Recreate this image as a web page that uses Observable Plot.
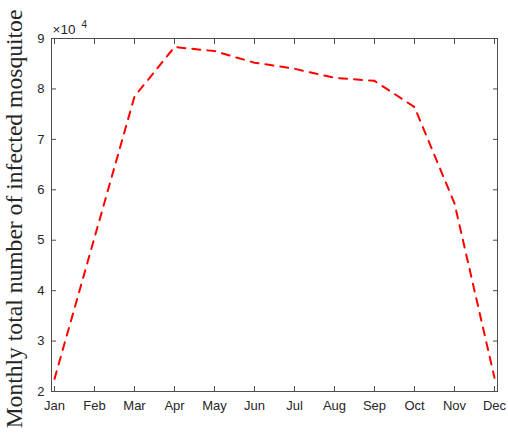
<!DOCTYPE html>
<html>
<head>
<meta charset="utf-8">
<script src="https://cdn.jsdelivr.net/npm/d3@7"></script>
<script src="https://cdn.jsdelivr.net/npm/@observablehq/plot@0.6"></script>
<style>
  html, body { margin: 0; padding: 0; background: #fff; }
  #chart svg { display: block; }
</style>
</head>
<body>
<div id="chart"></div>
<script>
// Monthly total number of infected mosquitoes (in units of 10^4)
const months = ["Jan", "Feb", "Mar", "Apr", "May", "Jun", "Jul", "Aug", "Sep", "Oct", "Nov", "Dec"];
const infected = [2.25, 5.05, 7.85, 8.83, 8.75, 8.52, 8.40, 8.22, 8.16, 7.64, 5.73, 2.27];
const yTicks = [2, 3, 4, 5, 6, 7, 8, 9];
const yLabel = "Monthly total number of infected mosquitoe";

const data = months.map((m, i) => ({month: m, value: infected[i]}));

const axisColor = "#262626";
const frameColor = "#4d4d4d";

const chart = Plot.plot({
  width: 508,
  height: 435,
  marginLeft: 51,
  marginRight: 11,
  marginTop: 38,
  marginBottom: 44,
  style: {fontFamily: "Liberation Sans, Arial, sans-serif", fontSize: "13px", color: axisColor, background: "#fff"},
  x: {type: "point", domain: months, padding: 0},
  y: {domain: [2, 9]},
  marks: [
    // box around the plotting area
    Plot.frame({stroke: frameColor, strokeWidth: 1}),
    // inward tick marks on all four sides
    Plot.axisX({anchor: "bottom", tickSize: 5, dy: -5, text: null, stroke: frameColor, label: null}),
    Plot.axisX({anchor: "top", tickSize: 5, dy: 5, text: null, stroke: frameColor, label: null}),
    Plot.axisY(yTicks, {anchor: "left", tickSize: 5, dx: 5, text: null, stroke: frameColor, label: null}),
    Plot.axisY(yTicks, {anchor: "right", tickSize: 5, dx: -5, text: null, stroke: frameColor, label: null}),
    // tick labels
    Plot.axisX({anchor: "bottom", tickSize: 0, tickPadding: 9, label: null, fill: axisColor}),
    Plot.axisY(yTicks, {anchor: "left", tickSize: 0, tickPadding: 7, label: null, tickFormat: "d", fill: axisColor}),
    // exponent marker above the y axis
    Plot.text(["×10"], {frameAnchor: "top-left", dx: 1, dy: -9, textAnchor: "start", lineAnchor: "middle", fill: axisColor, fontSize: 13.5}),
    Plot.text(["4"], {frameAnchor: "top-left", dx: 30, dy: -14, textAnchor: "start", lineAnchor: "middle", fill: axisColor, fontSize: 10}),
    // y-axis title
    Plot.text([yLabel], {frameAnchor: "left", dx: -37, dy: 4, rotate: -90, textAnchor: "middle", lineAnchor: "middle",
      fill: axisColor, fontFamily: "Liberation Serif, DejaVu Serif, serif", fontSize: 23.6}),
    // the series
    Plot.line(data, {x: "month", y: "value", stroke: "#ff0000", strokeWidth: 2, strokeDasharray: "8,7"})
  ]
});

document.getElementById("chart").append(chart);
</script>
</body>
</html>
